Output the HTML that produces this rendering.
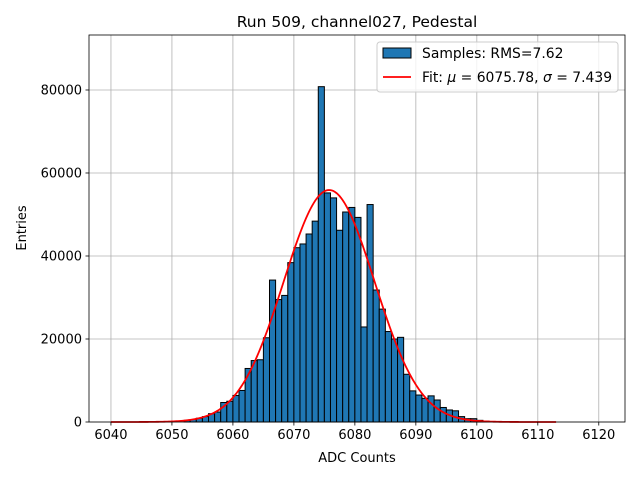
<!DOCTYPE html>
<html><head><meta charset="utf-8"><style>
body{margin:0;background:#fff;}
svg text{font-family:"DejaVu Sans","Liberation Sans",sans-serif;}
</style></head><body>
<svg id="chart" width="640" height="480" xmlns="http://www.w3.org/2000/svg">
<rect width="640" height="480" fill="#fff"/>
<g id="grid"></g><g id="bars"></g><g id="fit"></g><g id="axes"></g>
</svg>
<script>
const binStarts=[6052,6053,6054,6055,6056,6057,6058,6059,6060,6061,6062,6063,6064,6065,6066,6067,6068,6069,6070,6071,6072,6073,6074,6075,6076,6077,6078,6079,6080,6081,6082,6083,6084,6085,6086,6087,6088,6089,6090,6091,6092,6093,6094,6095,6096,6097,6098,6099,6100,6101];
const counts=[400,600,900,1300,2000,2400,4700,5000,6400,7600,12900,14800,15000,20300,34200,29500,30500,38400,42000,42900,45300,48400,80800,55200,54000,46200,50600,51700,49300,22900,52400,31800,27200,21800,20000,20400,11500,7500,6500,5700,6300,5300,3500,2900,2700,1300,800,800,400,200];
const xTicks=[6040,6050,6060,6070,6080,6090,6100,6110,6120];
const yTicks=[0,20000,40000,60000,80000];
const fitMu=6075.78, fitSigma=7.439, fitAmp=55900;
const L=89,R=625,T=35,B=422;
const xMin=6036.4,xMax=6124.3,yMax=93250;
const X=v=>L+(v-xMin)/(xMax-xMin)*(R-L);
const Y=v=>B-v/yMax*(B-T);
const NS="http://www.w3.org/2000/svg";
function mk(tag,attrs,parent,txt){const e=document.createElementNS(NS,tag);for(const k in attrs)e.setAttribute(k,attrs[k]);if(txt!==undefined)e.textContent=txt;parent.appendChild(e);return e;}
const grid=document.getElementById('grid'),bars=document.getElementById('bars'),fit=document.getElementById('fit'),axes=document.getElementById('axes');
xTicks.forEach(t=>{const g=mk('line',{x1:X(t),x2:X(t),y1:T,y2:B,stroke:'#b0b0b0','stroke-width':0.8},grid);});
yTicks.forEach(t=>{const g=mk('line',{x1:L,x2:R,y1:Y(t),y2:Y(t),stroke:'#b0b0b0','stroke-width':0.8},grid);});
binStarts.forEach((b,i)=>{const r=mk('rect',{x:X(b),y:Y(counts[i]),width:X(b+1)-X(b),height:B-Y(counts[i]),fill:'#1f77b4',stroke:'#000','stroke-width':1},bars);

});
let d='';for(let v=6040;v<=6113;v+=0.25){const y=fitAmp*Math.exp(-0.5*Math.pow((v-fitMu)/fitSigma,2));d+=(d?'L':'M')+X(v).toFixed(2)+','+Y(y).toFixed(2);}
const fl=mk('path',{d:d,fill:'none',stroke:'#ff0000','stroke-width':1.8},fit);


const fr=mk('rect',{x:L,y:T,width:R-L,height:B-T,fill:'none',stroke:'#000','stroke-width':0.8},axes);


xTicks.forEach(t=>{mk('line',{x1:X(t),x2:X(t),y1:B,y2:B+3.5,stroke:'#000','stroke-width':0.8},axes);const tx=mk('text',{x:X(t),y:B+17,'text-anchor':'middle','font-size':13},axes,String(t));});
yTicks.forEach(t=>{mk('line',{x1:L-3.5,x2:L,y1:Y(t),y2:Y(t),stroke:'#000','stroke-width':0.8},axes);const tx=mk('text',{x:L-7,y:Y(t)+4.5,'text-anchor':'end','font-size':13},axes,String(t));});
</script>
<svg style="position:absolute;left:0;top:0" width="640" height="480" xmlns="http://www.w3.org/2000/svg">
<text x="357" y="27" text-anchor="middle" font-size="15.5">Run 509, channel027, Pedestal</text>
<text x="357" y="462" text-anchor="middle" font-size="13">ADC Counts</text>
<text x="26" y="228" text-anchor="middle" font-size="13" transform="rotate(-90 26 228)">Entries</text>
<g>
<rect x="377" y="42" width="241" height="50" rx="3" fill="#fff" fill-opacity="0.8" stroke="#ccc" stroke-width="1"/>
<rect x="383" y="48" width="28" height="10" fill="#1f77b4" stroke="#000" stroke-width="1"/>
<text x="422" y="58" font-size="13.9">Samples: RMS=7.62</text>
<line x1="383" y1="77" x2="411" y2="77" stroke="#ff0000" stroke-width="1.8"/>
<text x="422" y="82" font-size="13.9">Fit: <tspan font-style="italic">μ</tspan> = 6075.78, <tspan font-style="italic">σ</tspan> = 7.439</text>
</g>
</svg>
</body></html>
